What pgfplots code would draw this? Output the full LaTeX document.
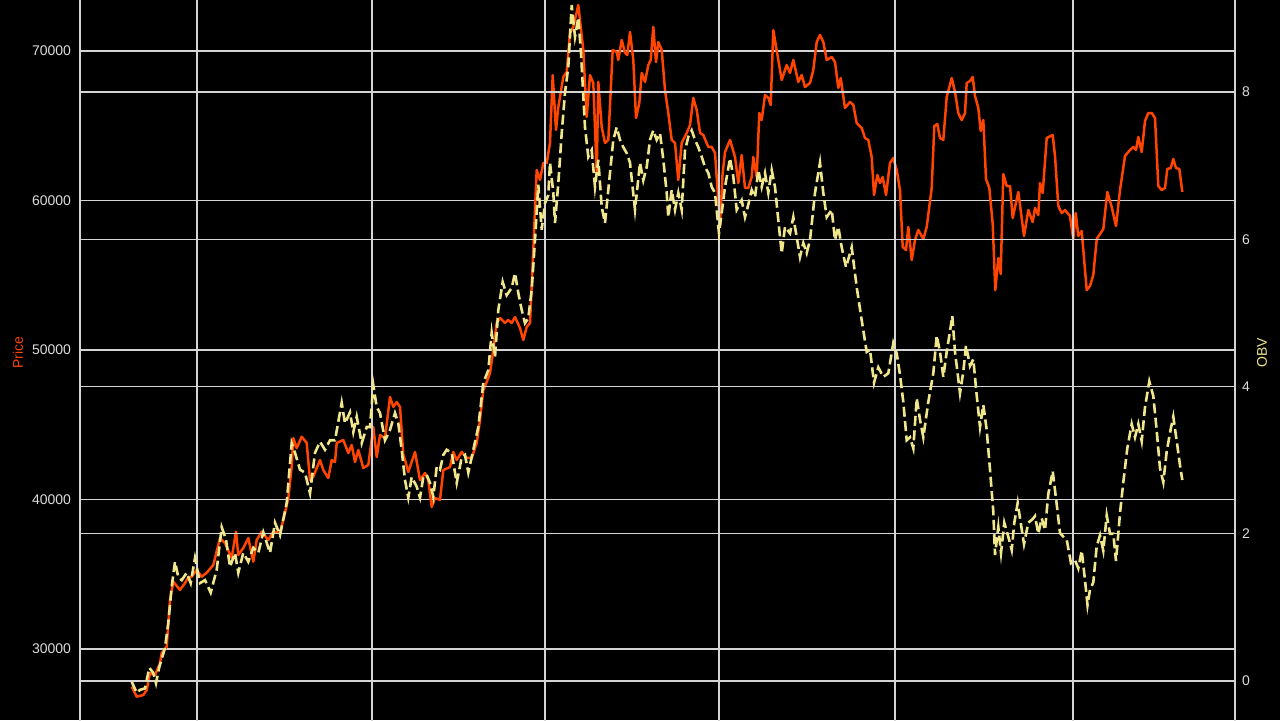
\documentclass[border=0pt]{standalone}
\usepackage{fontspec}
\setmainfont{Liberation Sans}
\usepackage{pgfplots}
\pgfplotsset{compat=1.18}
\definecolor{pricec}{HTML}{FF4500}
\definecolor{obvc}{HTML}{F0E68C}
\definecolor{gridc}{RGB}{212,212,212}
\definecolor{tickc}{RGB}{220,220,220}
\begin{document}
\begin{tikzpicture}
\path[use as bounding box] (0,0) rectangle (640pt,360pt);
\fill[black] (0,0) rectangle (640pt,360pt);
\begin{scope}
\clip (0,0) rectangle (640pt,360pt);
\pgfplotsset{
  common/.style={
    scale only axis, width=577.5pt, height=373.75pt,
    at={(40pt,-9.35pt)}, anchor=south west,
    xmin=80, xmax=1235,
    xtick={197,372,545,719,895,1073}, xticklabels={},
    major tick length=0pt,
    axis line style={color=gridc, line width=0.75pt},
    grid=major, grid style={color=gridc, line width=0.7pt},
    tick label style={font=\fontsize{7}{8}\selectfont, color=tickc},
    scaled ticks=false,
    /pgf/number format/1000 sep={},
    /pgf/number format/assume math mode=true,
    clip=true,
  }
}
\begin{axis}[common,
  ymin=24000, ymax=74000,
  ytick={30000,40000,50000,60000,70000},
  yticklabel style={xshift=-1pt},
  ylabel={Price},
  ylabel style={at={(rel axis cs:-0.0537,0.516)}, anchor=center, font=\fontsize{7}{8}\selectfont, color=pricec},
]
\addplot[color=pricec, line width=1.25pt, line join=round] coordinates {
(131.7,27480)(136.7,26810)(143.3,26920)(146.7,27260)(150,28390)(155,28260)(160,29060)(161.7,29730)(166.7,30150)(170,33280)(173.3,34500)(180,33950)(185,34410)(188,34750)(191.7,34840)(196.7,35280)(201.7,34840)(206.7,35100)(213.3,35620)(220,37420)(225,37090)(231.7,36090)(236,37850)(238.3,36290)(243.3,36760)(248.3,37420)(253.3,35840)(256.7,37290)(261.7,37850)(268.3,37290)(273.3,37850)(280,37760)(285,39100)(288.3,40100)(291.7,42190)(293.3,44110)(296.7,43440)(301.7,44200)(306.7,43780)(310,41300)(313.3,41530)(320,42640)(323.3,41970)(328.3,41440)(331.7,42640)(335,42510)(336.7,43780)(343.3,43980)(348.3,43110)(351.7,43650)(355,42510)(358.3,43310)(363.3,42110)(368.3,42310)(373.3,44850)(376.7,42840)(380,44310)(385,44110)(390,46860)(393.3,46190)(396.7,46520)(400,46190)(403.3,42980)(405,42640)(408.3,41840)(415,43180)(420,41300)(425,41770)(428.3,41300)(431.7,39500)(435,40100)(440,39970)(443.3,41970)(450,42170)(453.3,43180)(456.7,42640)(461.7,43180)(466.7,42780)(471.7,42780)(476.7,43780)(480,45320)(483.3,47320)(486.7,47860)(490,48460)(493.3,50000)(496.7,51810)(500,52140)(505,51810)(508.3,52010)(511.7,51810)(515,52210)(520,51470)(523.3,50670)(526.7,51540)(530,51810)(533.3,56690)(536.7,62040)(540,61370)(543.3,62510)(546.7,62510)(550,63850)(552.7,68390)(556,64720)(558.3,66250)(563.3,68260)(566.7,68600)(570,71200)(573.3,71610)(578.3,73080)(583.3,70070)(586.7,65590)(590,68390)(593.3,67860)(596.7,61840)(598.3,67930)(601.7,64920)(605,63850)(608.3,64050)(612.7,70070)(616.7,69930)(618.3,69400)(621.7,70740)(625,69870)(627.3,69730)(630,71270)(633.3,69400)(636,65520)(639.3,66520)(641.7,68530)(645,67930)(648.3,69060)(650.7,69400)(653.3,71610)(656,69260)(658.3,70600)(661.7,70070)(665,67390)(668.3,65850)(671.7,64050)(675,63850)(678.3,61370)(681.7,63850)(686.7,64520)(690,65050)(693.3,66860)(696.7,66050)(700,64520)(703.3,64380)(708.3,63580)(711.7,63580)(715,63180)(718.3,60030)(720,58360)(722.5,61710)(725,63240)(730,64050)(735,62910)(738.3,61170)(741.7,63040)(745,60840)(748.3,60840)(751.7,61570)(753.3,62910)(756.7,61570)(759.3,65850)(761.7,65380)(765,67060)(768.3,66860)(770.7,66390)(773.3,71400)(778.3,69400)(781.7,68060)(786.7,69060)(790,68530)(793.3,69400)(798.3,67930)(801.7,68390)(805,67590)(810,67860)(813.3,68730)(816.7,70600)(820,71070)(823.3,70600)(826.7,69400)(831.7,69600)(835,69260)(838.3,67530)(840.7,68190)(845,66190)(850,66590)(853.3,66390)(856.7,65180)(861.7,64850)(865,64180)(868.3,64050)(871.7,62910)(874,60370)(877.3,61710)(880,61170)(882.7,61570)(886,60370)(890,62510)(893.3,62840)(896.7,62040)(900,60700)(902.7,56890)(906,56690)(908.3,58230)(911.7,56020)(915,57360)(918.3,58030)(923.3,57420)(926.7,58230)(931.7,60840)(934.3,64980)(937.3,65120)(940,64180)(943.3,64050)(946.7,66920)(951.7,68190)(955,67260)(958.3,65850)(961.7,65380)(965,65850)(966.7,67860)(970,67990)(972.7,68260)(975,66990)(978.3,66190)(980.7,64650)(983.3,65380)(986,61440)(989.3,60840)(992.7,58430)(995.3,54010)(998.3,56150)(1000.7,55080)(1003.3,61770)(1006.7,60970)(1010,60970)(1012.7,58830)(1018.3,60570)(1024,57630)(1028.3,59360)(1032.7,58560)(1035,59500)(1038.3,59030)(1040,61170)(1042.7,60500)(1046.7,64180)(1052.7,64380)(1055,62980)(1058.3,59630)(1061.7,59160)(1065,59360)(1070,58960)(1073.3,57420)(1075.7,59160)(1078.3,57630)(1081.7,57960)(1086.7,54010)(1090,54280)(1093.3,55020)(1096.7,57420)(1100,57760)(1103.3,58090)(1107.3,60570)(1111.7,59570)(1116,58290)(1120,60700)(1125,62980)(1130,63380)(1133.3,63580)(1136,63380)(1138.3,64250)(1141.7,63240)(1145,65320)(1148.3,65850)(1151.7,65850)(1155,65520)(1158.3,60970)(1161.7,60700)(1165,60840)(1167.3,62110)(1170.7,62170)(1173.3,62780)(1176,62170)(1179.3,62110)(1182.3,60570)
};
\end{axis}
\begin{axis}[common,
  ymin=-0.7837, ymax=9.369,
  ytick={0,2,4,6,8},
  axis y line*=right,
  ylabel={OBV},
  ylabel style={at={(rel axis cs:1.0234,0.516)}, anchor=center, font=\fontsize{7}{8}\selectfont, color=obvc},
]
\addplot[color=obvc, line width=1.3pt, dash pattern=on 5pt off 2.2pt] coordinates {
(131.7,-0.01)(136.7,-0.16)(140,-0.12)(145,-0.10)(149.3,0.18)(153.3,0.11)(156,-0.03)(159.3,0.19)(165,0.45)(168.3,0.79)(171.7,1.28)(175,1.62)(178.3,1.41)(181.7,1.37)(186.7,1.47)(190.7,1.33)(195,1.67)(200,1.33)(205,1.37)(210.7,1.20)(216.7,1.51)(221.7,2.09)(226,1.92)(230,1.55)(235,1.74)(238.3,1.47)(243.3,1.74)(248.3,1.62)(253.3,1.81)(258.3,1.74)(263.3,2.02)(270,1.74)(275,2.15)(280,1.98)(286.7,2.42)(291.7,3.23)(295,3.10)(300,2.87)(305,2.83)(310,2.55)(315,3.10)(320,3.25)(325,3.14)(330,3.27)(335,3.27)(341.7,3.78)(345,3.50)(350,3.65)(353.3,3.38)(356.7,3.59)(361.7,3.23)(366.7,3.45)(370,3.45)(373.3,4.02)(376.7,3.72)(380,3.64)(385,3.27)(390,3.41)(395,3.64)(398.3,3.50)(401.7,3.14)(405,2.73)(408.3,2.49)(411.7,2.77)(416.7,2.64)(420,2.49)(423.3,2.77)(426.7,2.80)(430,2.69)(433.3,2.50)(436.7,2.91)(440,2.87)(443.3,3.07)(446.7,3.14)(451.7,3.10)(456.7,2.69)(461.7,3.04)(465,3.07)(468.3,2.83)(473.3,3.14)(478.3,3.45)(483.3,4.05)(488.3,4.22)(491.7,4.73)(495,4.40)(498.3,5.04)(502.7,5.42)(506.7,5.24)(511.7,5.34)(515,5.54)(518.3,5.27)(521.7,5.04)(525,4.86)(528.3,4.93)(531.7,5.31)(535,5.99)(538.3,6.74)(541.7,6.13)(545,6.49)(548.3,6.60)(550,7.04)(553.3,6.63)(555,6.22)(558.3,6.76)(561.7,7.44)(565,7.99)(568.3,8.34)(571.7,9.18)(575,8.75)(578.3,9.01)(581,8.53)(585,7.52)(588.3,7.12)(591.7,7.21)(595,6.71)(598.3,7.08)(601.7,6.44)(605,6.22)(608.3,6.67)(613.3,7.35)(616.7,7.52)(620,7.35)(623.3,7.25)(626.7,7.17)(630,7.04)(635,6.40)(640,7.04)(643.3,6.80)(646.7,6.98)(650,7.35)(653.3,7.48)(656.7,7.35)(660,7.44)(663.3,7.08)(666.7,6.63)(668.3,6.30)(671.7,6.67)(675,6.40)(678.3,6.63)(681.7,6.40)(685,7.21)(688.3,7.39)(691.7,7.48)(695,7.35)(698.3,7.25)(701.7,7.12)(705,6.98)(708.3,6.90)(711.7,6.71)(715,6.63)(719,6.08)(721.7,6.36)(725,6.71)(730,7.10)(733.3,6.85)(736.7,6.40)(741.7,6.53)(745,6.30)(748.3,6.47)(751.7,6.67)(755,6.57)(758.3,6.94)(761.7,6.71)(765,6.90)(768.3,6.63)(771.7,6.94)(775,6.71)(778.3,6.26)(781.7,5.81)(785,6.17)(790,6.08)(793.3,6.30)(796.7,6.03)(800,5.76)(803.3,5.95)(806.7,5.81)(810,5.99)(815,6.63)(820,7.04)(823.3,6.63)(826.7,6.30)(831.7,6.40)(835,5.99)(838.3,6.17)(841.7,5.89)(846,5.62)(851.7,5.89)(856.7,5.35)(861.7,4.90)(866.7,4.47)(870,4.50)(874,4.05)(878.3,4.26)(883.3,4.13)(888.3,4.18)(893.3,4.59)(896.7,4.45)(900,4.16)(903.3,3.79)(906.7,3.27)(910,3.31)(913.3,3.16)(916.7,3.84)(920,3.55)(923.3,3.31)(928.3,3.79)(933.3,4.18)(936.7,4.69)(940,4.47)(943.3,4.13)(946.7,4.47)(950,4.75)(952.3,4.96)(955,4.47)(960,3.91)(963.3,4.20)(966,4.56)(970,4.28)(973.3,4.37)(976.7,3.88)(980,3.45)(983.3,3.75)(986.7,3.41)(990,2.87)(993.3,2.30)(995,1.71)(998.3,2.09)(1001,1.74)(1004.3,2.15)(1008.3,1.96)(1011.7,1.78)(1014.3,2.15)(1017.7,2.42)(1020.7,2.15)(1024,1.86)(1028.3,2.15)(1032.7,2.20)(1035,2.24)(1038.3,2.00)(1041.7,2.21)(1045,2.05)(1048.3,2.54)(1052.7,2.85)(1056.7,2.40)(1060,2.01)(1063.3,1.96)(1066.7,1.92)(1071,1.60)(1075,1.64)(1078.3,1.53)(1081.7,1.77)(1085,1.37)(1087.5,1.03)(1090,1.24)(1093.3,1.34)(1096.7,1.83)(1100,1.98)(1103.3,1.77)(1106.7,2.25)(1110,2.00)(1113.3,2.00)(1116,1.63)(1120,2.28)(1123.3,2.70)(1127.3,3.16)(1131.7,3.49)(1135,3.31)(1138.3,3.49)(1141.7,3.26)(1145,3.72)(1149.3,4.07)(1153.3,3.87)(1156.7,3.40)(1160,2.89)(1163.3,2.70)(1166.7,3.12)(1170.7,3.42)(1173.3,3.59)(1176.7,3.26)(1180,2.93)(1182.3,2.73)
};
\end{axis}
\end{scope}
\end{tikzpicture}
\end{document}
